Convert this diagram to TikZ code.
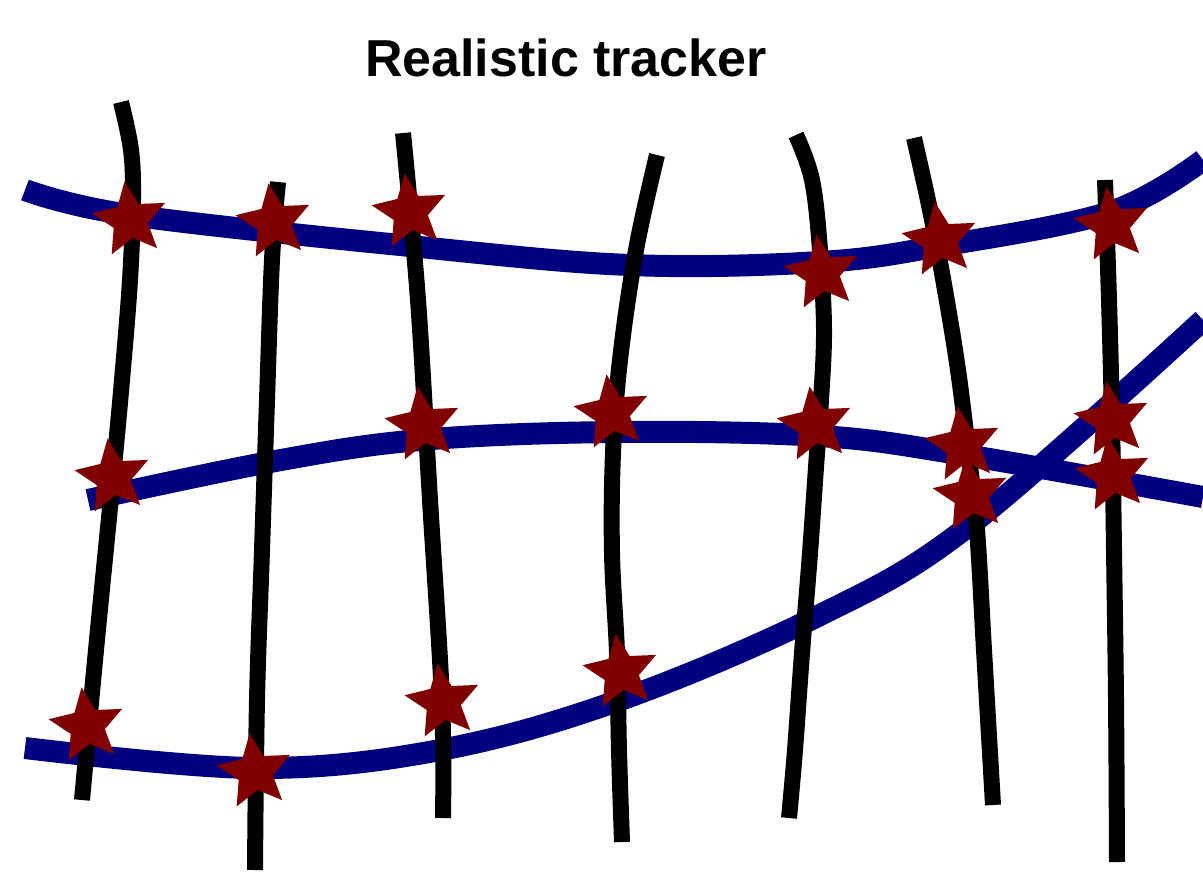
\documentclass[tikz,border=0pt]{standalone}
\usepackage{fontspec}
\setmainfont{Liberation Sans}
\usetikzlibrary{shapes.geometric}
\definecolor{tracknavy}{RGB}{0,0,128}
\definecolor{hitred}{RGB}{128,0,0}
\begin{document}
\begin{tikzpicture}[x=0.5pt,y=-0.5pt,
  layerline/.style={line width=8pt, black},
  trackline/.style={line width=11pt, tracknavy},
  hit/.style={star, star points=5, star point ratio=2.15, minimum size=39pt, inner sep=0pt, fill=hitred, draw=none, rotate=8}]
\useasboundingbox (0,0) rectangle (1203,873);
\node[font=\bfseries\fontsize{26}{30}\selectfont, anchor=base] (title) at (566,76) {Realistic tracker};
% tracks
\draw[trackline] plot[smooth, tension=0.6] coordinates {(25,190) (130,215) (410,246) (630,265) (820,262) (940,246) (1110,212) (1203,160)};
\draw[trackline] plot[smooth, tension=0.6] coordinates {(88,500) (270,462) (420,440) (615,432) (820,436) (965,455) (1203,497)};
\draw[trackline] plot[smooth, tension=0.6] coordinates {(25,748) (255,768) (440,750) (620,700) (820,615) (970,525) (1203,320)};
% detector layers
\draw[layerline] plot[smooth, tension=0.6] coordinates {(121,102) (131,150) (133,200) (130,280) (122,380) (113,477) (96,650) (82,800)};
\draw[layerline] plot[smooth, tension=0.6] coordinates {(278,182) (272,260) (267,400) (262,550) (257,700) (255,870)};
\draw[layerline] plot[smooth, tension=0.6] coordinates {(403,133) (418,300) (430,500) (442,700) (443,818)};
\draw[layerline] plot[smooth, tension=0.6] coordinates {(657,155) (636,250) (620,360) (613,453) (612,553) (617,653) (619,750) (622,842)};
\draw[layerline] plot[smooth, tension=0.6] coordinates {(796,135) (812,180) (820,250) (824,330) (821,400) (817,453) (810,553) (802,653) (795,750) (789,818)};
\draw[layerline] plot[smooth, tension=0.6] coordinates {(914,138) (930,210) (945,290) (958,370) (968,450) (977,530) (984,650) (993,805)};
\draw[layerline] plot[smooth, tension=0.6] coordinates {(1105,180) (1109,300) (1112,420) (1114,550) (1116,700) (1117,862)};
% hits
\node[hit] (h1) at (130,220) {};
\node[hit] (h2) at (274,222) {};
\node[hit] (h3) at (410,212) {};
\node[hit] (h4) at (822,273) {};
\node[hit] (h5) at (940,240) {};
\node[hit] (h6) at (1112,225) {};
\node[hit] (h7) at (113,477) {};
\node[hit] (h8) at (423,425) {};
\node[hit] (h9) at (612,413) {};
\node[hit] (h10) at (815,425) {};
\node[hit] (h11) at (963,445) {};
\node[hit] (h12) at (971,495) {};
\node[hit] (h13) at (1112,420) {};
\node[hit] (h14) at (1113,475) {};
\node[hit] (h15) at (87,726) {};
\node[hit] (h16) at (255,772) {};
\node[hit] (h17) at (443,702) {};
\node[hit] (h18) at (621,672) {};
\end{tikzpicture}
\end{document}
